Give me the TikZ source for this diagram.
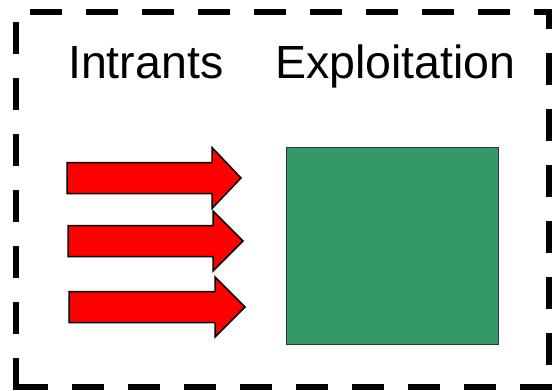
\documentclass[tikz,border=0pt]{standalone}
\usepackage{fontspec}
\setmainfont{Liberation Sans}
\definecolor{farmgreen}{RGB}{51,153,102}
\begin{document}
\begin{tikzpicture}[x=1pt,y=-1pt,
  frame/.style={line width=6pt, dash pattern=on 32pt off 24pt},
  bigarrow/.style={fill=red, draw=black, line width=1.5pt, line join=miter},
  label/.style={anchor=base west, inner sep=0pt, font=\fontsize{46.5}{55}\selectfont},
  farm/.style={fill=farmgreen, draw=black!80, line width=1pt}]
\useasboundingbox (0,0) rectangle (552,391);
\draw[frame, dash phase=42pt] (16,12) -- (549,12) -- (549,387);
\draw[frame] (552,387) -- (16,387);
\draw[frame] (16,390) -- (16,12);
\node[label] (intr) at (68,78) {Intrants};
\node[label] (expl) at (275,78) {Exploitation};
\node[farm, minimum width=212pt, minimum height=197pt, anchor=north west, inner sep=0pt] (box) at (286,147) {};
\draw[bigarrow] (67,162.5) -- (212,162.5) -- (212,147.5) -- (241,178) -- (212,208.5) -- (212,193.5) -- (67,193.5) -- cycle;
\draw[bigarrow] (68,225.5) -- (213,225.5) -- (213,211) -- (243,241) -- (213,271) -- (213,256.5) -- (68,256.5) -- cycle;
\draw[bigarrow] (69,291.5) -- (215,291.5) -- (215,277) -- (245,307) -- (215,337) -- (215,322.5) -- (69,322.5) -- cycle;
\end{tikzpicture}
\end{document}
